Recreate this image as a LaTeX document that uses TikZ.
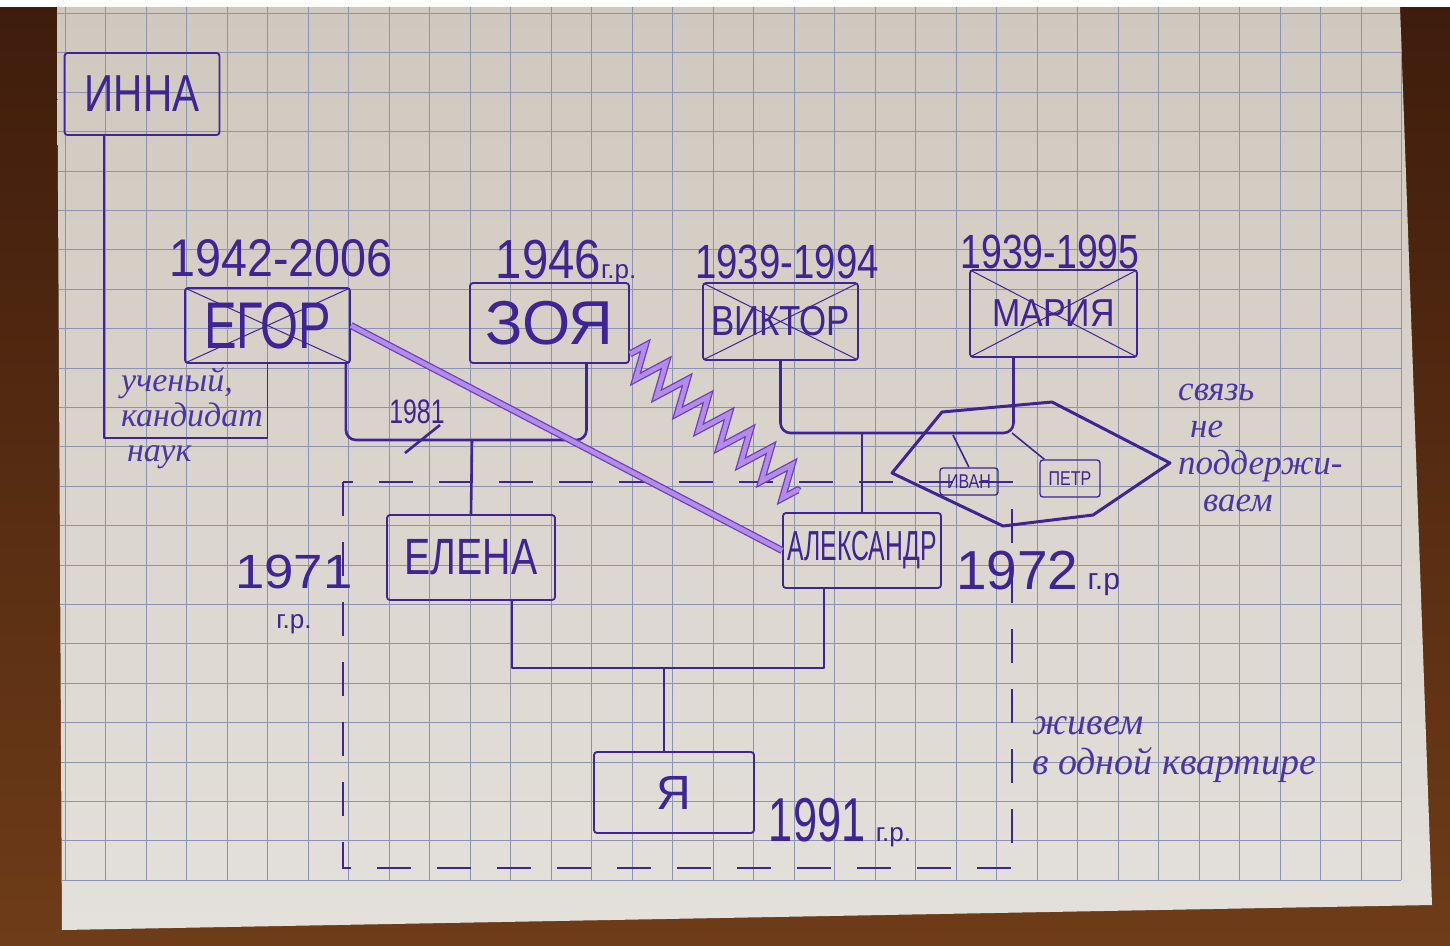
\documentclass[tikz,border=0pt]{standalone}
\usepackage{fontspec}
\setmainfont{Liberation Sans}
\newfontfamily\notefont{Liberation Serif}
\usepackage{graphicx}
\usetikzlibrary{decorations.pathmorphing,calc}
\definecolor{ink}{HTML}{3E2494}
\definecolor{pen}{HTML}{4A35A8}
\definecolor{hl}{HTML}{B48CE8}
\definecolor{hledge}{HTML}{6A3FC0}
\definecolor{paper}{HTML}{CFC8BE}
\definecolor{paperlow}{HTML}{E4E0DB}
\definecolor{wood}{HTML}{3E1C0C}
\definecolor{woodlow}{HTML}{6E3C18}
\definecolor{gridline}{HTML}{8C93B0}

\begin{document}
\begin{tikzpicture}[x=1pt,y=-1pt,
  person/.style={draw=ink,line width=1.8pt,rounded corners=3pt,inner sep=0pt,text=ink},
  dead/.style={path picture={\draw[ink,line width=1pt] (path picture bounding box.north west)--(path picture bounding box.south east) (path picture bounding box.north east)--(path picture bounding box.south west);}},
  kin/.style={draw=ink,line width=2.6pt,line join=round},
  yr/.style={text=ink,inner sep=0pt},
  note/.style={text=pen,inner sep=0pt,align=left},
  hlline/.style={draw=hledge,line width=1.3pt,double=hl,double distance=4.5pt}]
\useasboundingbox (0,0) rectangle (1450,945);
\shade[top color=wood,bottom color=woodlow] (0,0) rectangle (1450,945);
\fill[white] (0,0) rectangle (1450,7);
\shade[top color=paper,bottom color=paperlow] (57,7) -- (1400,7) -- (1432,905) -- (62,930) -- cycle;
\begin{scope}
\clip (57,7) -- (1400,7) -- (1432,905) -- (62,930) -- cycle;
\foreach \i in {0,...,33} \draw[gridline,line width=0.9pt] ({65+40.5*\i},7) -- ({65+40.5*\i},880);
\foreach \j in {0,...,22} \draw[gridline,line width=0.9pt] (57,{13.5+39.4*\j}) -- (1401,{13.5+39.4*\j});
\end{scope}

\node[person,minimum width=155,minimum height=82,font=\fontsize{52}{52}\selectfont] (inna) at (142,94) {\scalebox{0.78}[1]{ИННА}};
\node[person,dead,minimum width=165,minimum height=75,font=\fontsize{66}{66}\selectfont] (egor) at (267.5,325.5) {\scalebox{0.74}[1]{ЕГОР}};
\node[person,minimum width=159,minimum height=80,font=\fontsize{62}{62}\selectfont] (zoya) at (549.5,323) {ЗОЯ};
\node[person,dead,minimum width=155,minimum height=77,font=\fontsize{42}{42}\selectfont] (viktor) at (780.5,321.5) {\scalebox{0.83}[1]{ВИКТОР}};
\node[person,dead,minimum width=167,minimum height=87,font=\fontsize{39}{39}\selectfont] (maria) at (1053.5,313.5) {\scalebox{0.87}[1]{МАРИЯ}};
\node[person,minimum width=168,minimum height=85,font=\fontsize{51}{51}\selectfont] (elena) at (471,557.5) {\scalebox{0.77}[1]{ЕЛЕНА}};
\node[person,minimum width=158,minimum height=75,font=\fontsize{42}{42}\selectfont] (alex) at (862,550.5) {\scalebox{0.59}[1]{АЛЕКСАНДР}};
\node[person,minimum width=160,minimum height=81,font=\fontsize{48}{48}\selectfont] (ya) at (674,792.5) {Я};
\node[person,line width=1.3pt,minimum width=58,minimum height=27,font=\fontsize{20}{20}\selectfont] (ivan) at (969,481.5) {\scalebox{0.8}[1]{ИВАН}};
\node[person,line width=1.3pt,minimum width=60,minimum height=37,font=\fontsize{20}{20}\selectfont] (petr) at (1070,478.5) {\scalebox{0.8}[1]{ПЕТР}};

\node[yr,font=\fontsize{53}{53}\selectfont] (egoryr) at (281,258) {\scalebox{0.88}[1]{1942-2006}};
\node[yr] (zoyayr) at (566,262) {\fontsize{55}{55}\selectfont\scalebox{0.86}[1]{1946}\fontsize{26}{26}\selectfont г.р.};
\node[yr,font=\fontsize{48}{48}\selectfont] (viktoryr) at (787,262) {\scalebox{0.8}[1]{1939-1994}};
\node[yr,font=\fontsize{48}{48}\selectfont] (mariayr) at (1050,252) {\scalebox{0.78}[1]{1939-1995}};
\node[yr,align=center,font=\fontsize{48}{40}\selectfont] (elenayr) at (294,594) {\scalebox{1.1}[1]{1971}\\{\fontsize{26}{26}\selectfont г.р.}};
\node[yr] (alexyr) at (1038,573) {\fontsize{55}{55}\selectfont 1972\,\fontsize{30}{30}\selectfont г.р};
\node[yr] (yayr) at (840,823) {\fontsize{62}{62}\selectfont\scalebox{0.7}[1]{1991}\,\fontsize{26}{26}\selectfont г.р.};
\node[yr,font=\fontsize{34}{34}\selectfont] (split) at (417,412) {\scalebox{0.73}[1]{1981}};

\node[note,font=\notefont\itshape\fontsize{34}{35}\selectfont] (egornote) at (192,418) {ученый,\\кандидат\\\hspace*{6pt}наук};
\node[note,anchor=north west,font=\notefont\itshape\fontsize{35}{37}\selectfont] (nocontact) at (1178,384) {связь\\\hspace*{12pt}не\\поддержи-\\\hspace*{25pt}ваем};
\node[note,anchor=north west,font=\notefont\itshape\fontsize{38}{40}\selectfont] (home) at (1032,716) {живем\\в одной квартире};

\coordinate (wed1) at (472,440);
\coordinate (wed2) at (862,433);
\coordinate (wed3) at (664,668);
\coordinate (innafoot) at (104,438);

\draw[ink,line width=1.8pt,dash pattern=on 34pt off 26pt] (343,482) rectangle (1012,868);
\draw[kin,line width=1.8pt] ([xshift=-38]inna.south) -- (innafoot) -| (egor.south);
\draw[kin,rounded corners=10pt] ([xshift=-5]egor.south east) |- (wed1) -| ([xshift=37]zoya.south);
\draw[kin] (wed1) -- (elena.north);
\draw[kin] ($(wed1)+(-67,13)$) -- ($(wed1)+(-32,-15)$);
\draw[kin,rounded corners=10pt] (viktor.south) |- (wed2) -| ([xshift=-40]maria.south);
\draw[kin] (wed2) -- (alex.north);
\draw[kin,line width=1.6pt] ($(wed2)+(91,2)$) -- (ivan.north);
\draw[kin,line width=1.6pt] ($(wed2)+(150,0)$) -- ([xshift=5]petr.north west);
\draw[kin] ([xshift=41]elena.south) |- (wed3) -| ([xshift=-38]alex.south);
\draw[kin] (wed3) -- (wed3 |- ya.north);
\draw[ink,line width=3pt,line join=round] (892,473) -- (942,412) -- (1052,402) -- (1170,463) -- (1093,515) -- (1003,526) -- cycle;
\draw[hlline] (egor.east) -- (alex.west);
\draw[hlline,decorate,decoration={zigzag,segment length=27pt,amplitude=16pt}] ([yshift=10]zoya.south east) -- ([xshift=17,yshift=21]alex.north west);
\end{tikzpicture}
\end{document}
